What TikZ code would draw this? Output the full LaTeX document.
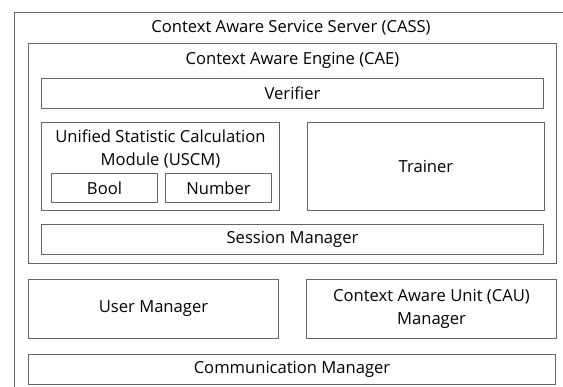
\documentclass[tikz,border=0pt]{standalone}
\usepackage{fontspec}
\setmainfont{Open Sans}
\usetikzlibrary{positioning}

\tikzset{
  block/.style={rectangle, draw=black!60, line width=1pt, align=center, inner sep=0pt},
  heading/.style={inner sep=0pt, align=center},
}

\begin{document}
\begin{tikzpicture}[x=1pt, y=-1pt, font=\fontsize{16.6}{22.5}\selectfont]
  \useasboundingbox (0,0) rectangle (563,387);
  \clip (0,0) rectangle (563,387);

  % server frame (runs off to the right and bottom)
  \node [block, anchor=north west, minimum width=553pt, minimum height=390pt] (cass) at (14,12) {};
  \node [heading, below=8pt of cass.north] (casstitle) {Context Aware Service Server (CASS)};

  % engine and its parts
  \node [block, anchor=north west, minimum width=528pt, minimum height=220pt] (cae) at (28,43) {};
  \node [heading, below=9pt of cae.north] (caetitle) {Context Aware Engine (CAE)};
  \node [block, minimum width=502pt, minimum height=30pt, below=35pt of cae.north] (verifier) {Verifier};
  \node [block, minimum width=238pt, minimum height=88pt, below=13pt of verifier.south west, anchor=north west] (uscm) {};
  \node [heading, below=8pt of uscm.north] (uscmtitle) {Unified Statistic Calculation\\Module (USCM)};
  \node [block, minimum width=106pt, minimum height=29pt, above right=8pt and 10pt of uscm.south west, anchor=south west] (bool) {Bool};
  \node [block, minimum width=106pt, minimum height=29pt, right=7pt of bool] (number) {Number};
  \node [block, minimum width=237pt, minimum height=88pt, right=27pt of uscm] (trainer) {Trainer};
  \node [block, minimum width=502pt, minimum height=30pt, below=13pt of uscm.south west, anchor=north west] (session) {Session Manager};

  % managers under the engine
  \node [block, minimum width=250pt, minimum height=59pt, below=15pt of cae.south west, anchor=north west] (user) {User Manager};
  \node [block, minimum width=250pt, minimum height=59pt, right=27pt of user] (cau) {Context Aware Unit (CAU)\\Manager};
  \node [block, minimum width=527pt, minimum height=30pt, below=15pt of user.south west, anchor=north west] (comm) {Communication Manager};
\end{tikzpicture}
\end{document}
